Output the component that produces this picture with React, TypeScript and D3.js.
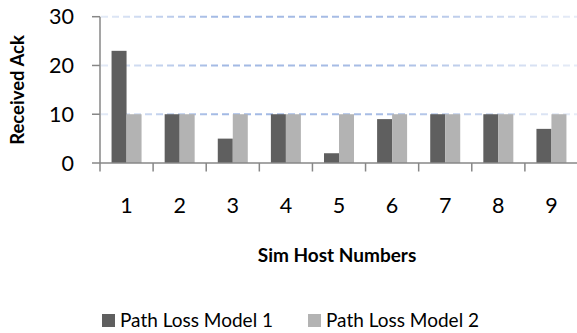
import React from "react";
import * as d3 from "d3";

// Received acknowledgements per simulated host, for two path loss models
const hosts = ["1", "2", "3", "4", "5", "6", "7", "8", "9"];
const pathLossModel1 = [23, 10, 5, 10, 2, 9, 10, 10, 7];
const pathLossModel2 = [10, 10, 10, 10, 10, 10, 10, 10, 10];
const seriesNames = ["Path Loss Model 1", "Path Loss Model 2"];
const yTicks = [0, 10, 20, 30];

const W = 577;
const H = 333;
const FONT = "Lato, 'Noto Sans', sans-serif";
const COLORS = ["#5f5f5f", "#b3b3b3"];

export default function App() {
  const x = d3.scaleBand<string>().domain(hosts).range([100, 578]).padding(0);
  const y = d3.scaleLinear().domain([0, 30]).range([163, 16.7]);
  const barW = 15;
  const series = [pathLossModel1, pathLossModel2];
  const bw = x.bandwidth();

  return (
    <svg
      width={W}
      height={H}
      style={{ position: "absolute", left: 0, top: 0, background: "#fff" }}
      fontFamily={FONT}
    >
      <defs>
        <linearGradient id="gridFade" gradientUnits="userSpaceOnUse" x1={100} y1={0} x2={577} y2={0}>
          <stop offset="0" stopColor="#e4ebf7" />
          <stop offset="0.25" stopColor="#a2b9e4" />
          <stop offset="0.6" stopColor="#a8bde5" />
          <stop offset="1" stopColor="#e6ecf7" />
        </linearGradient>
      </defs>

      {/* horizontal gridlines */}
      {yTicks
        .filter((t) => t > 0)
        .map((t) => (
          <line
            key={`g${t}`}
            x1={101}
            x2={577}
            y1={y(t)}
            y2={y(t)}
            stroke="url(#gridFade)"
            strokeWidth={2}
            strokeDasharray="7 4"
          />
        ))}

      {/* bars */}
      {hosts.map((h, i) => {
        const cx = (x(h) as number) + bw / 2;
        return series.map((s, k) => (
          <rect
            key={`${h}-${k}`}
            x={cx - barW + k * barW}
            y={y(s[i])}
            width={barW}
            height={y(0) - y(s[i])}
            fill={COLORS[k]}
          />
        ));
      })}

      {/* y axis */}
      <line x1={100} x2={100} y1={y(30)} y2={y(0)} stroke="#878787" strokeWidth={1.5} />
      {yTicks.map((t) => (
        <g key={`y${t}`}>
          <line x1={92} x2={100} y1={y(t)} y2={y(t)} stroke="#878787" strokeWidth={1.5} />
          <text x={74} y={y(t)} dy="0.36em" textAnchor="end" fontSize={21.5} fill="#000">
            {t}
          </text>
        </g>
      ))}

      {/* x axis */}
      <line x1={100} x2={577} y1={y(0)} y2={y(0)} stroke="#878787" strokeWidth={1.5} />
      {hosts.map((h) => (
        <line
          key={`xt${h}`}
          x1={x(h) as number}
          x2={x(h) as number}
          y1={y(0)}
          y2={y(0) + 8.5}
          stroke="#878787"
          strokeWidth={1.5}
        />
      ))}
      {hosts.map((h) => (
        <text
          key={`xl${h}`}
          x={(x(h) as number) + bw / 2}
          y={205}
          dy="0.36em"
          textAnchor="middle"
          fontSize={21.5}
          fill="#000"
        >
          {h}
        </text>
      ))}

      {/* axis titles */}
      <text x={337} y={255} dy="0.36em" textAnchor="middle" fontSize={19} fontWeight={700} fill="#000">
        Sim Host Numbers
      </text>
      <text
        transform={`translate(17, 90) rotate(-90)`}
        dy="0.36em"
        textAnchor="middle"
        fontSize={18.5}
        fontWeight={700}
        fill="#000"
      >
        Received Ack
      </text>

      {/* legend */}
      {seriesNames.map((n, k) => {
        const lx = [102, 308][k];
        return (
          <g key={n}>
            <rect x={lx} y={314} width={13} height={13} fill={COLORS[k]} />
            <text x={lx + 18} y={320.5} dy="0.36em" fontSize={19} fill="#000">
              {n}
            </text>
          </g>
        );
      })}
    </svg>
  );
}
